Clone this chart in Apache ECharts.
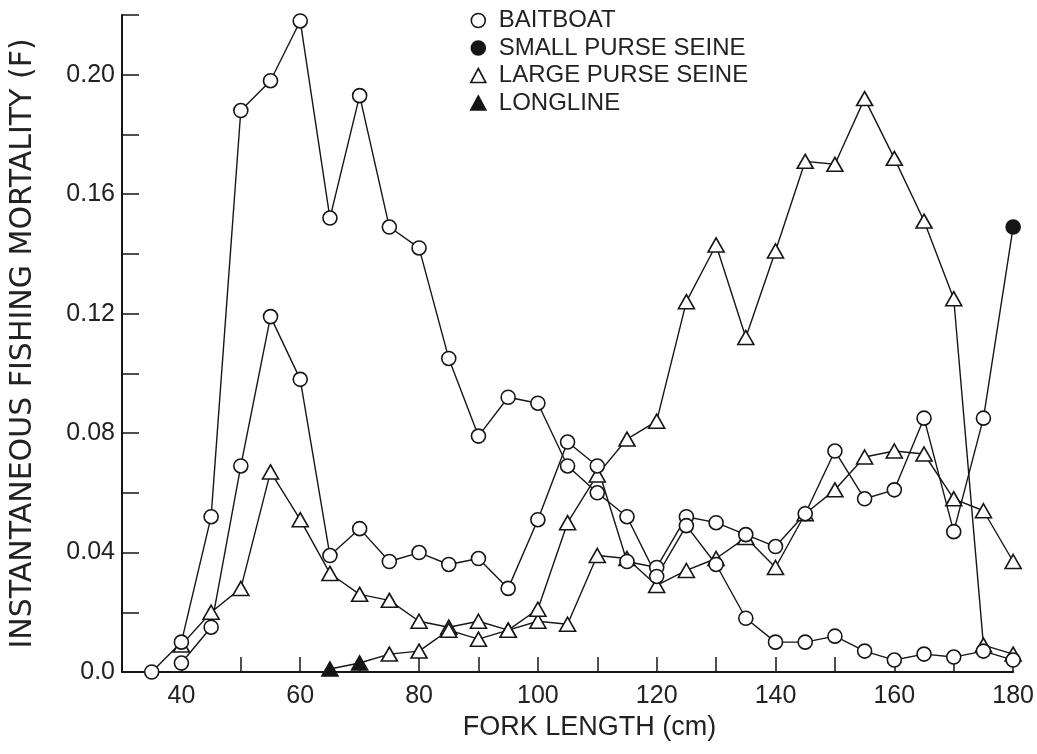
<!DOCTYPE html>
<html>
<head>
<meta charset="utf-8">
<script src="https://cdn.jsdelivr.net/npm/echarts@6/dist/echarts.min.js"></script>
<style>
  html, body { margin: 0; padding: 0; background: #ffffff; }
  #chart { width: 1037px; height: 754px; }
</style>
</head>
<body>
<div id="chart"></div>
<script>
// ---- data ----
const baitboatLength = [35, 40, 45, 50, 55, 60, 65, 70, 75, 80, 85, 90, 95, 100, 105, 110, 115, 120, 125, 130, 135, 140, 145, 150, 155, 160, 165, 170, 175, 180];
const baitboatF      = [0.000, 0.010, 0.052, 0.188, 0.198, 0.218, 0.152, 0.193, 0.149, 0.142, 0.105, 0.079, 0.092, 0.090, 0.069, 0.060, 0.052, 0.032, 0.049, 0.036, 0.018, 0.010, 0.010, 0.012, 0.007, 0.004, 0.006, 0.005, 0.007, 0.004];

const smallSeineLength = [40, 45, 50, 55, 60, 65, 70, 75, 80, 85, 90, 95, 100, 105, 110, 115, 120, 125, 130, 135, 140, 145, 150, 155, 160, 165, 170, 175, 180];
const smallSeineF      = [0.003, 0.015, 0.069, 0.119, 0.098, 0.039, 0.048, 0.037, 0.040, 0.036, 0.038, 0.028, 0.051, 0.077, 0.069, 0.037, 0.035, 0.052, 0.050, 0.046, 0.042, 0.053, 0.074, 0.058, 0.061, 0.085, 0.047, 0.085, 0.149];

const largeSeineLength = [40, 45, 50, 55, 60, 65, 70, 75, 80, 85, 90, 95, 100, 105, 110, 115, 120, 125, 130, 135, 140, 145, 150, 155, 160, 165, 170, 175, 180];
const largeSeineF      = [0.009, 0.020, 0.028, 0.067, 0.051, 0.033, 0.026, 0.024, 0.017, 0.015, 0.017, 0.014, 0.017, 0.016, 0.039, 0.038, 0.029, 0.034, 0.038, 0.045, 0.035, 0.053, 0.061, 0.072, 0.074, 0.073, 0.058, 0.054, 0.037];

const longlineLength = [65, 70, 75, 80, 85, 90, 95, 100, 105, 110, 115, 120, 125, 130, 135, 140, 145, 150, 155, 160, 165, 170, 175, 180];
const longlineF      = [0.001, 0.003, 0.006, 0.007, 0.014, 0.011, 0.014, 0.021, 0.050, 0.066, 0.078, 0.084, 0.124, 0.143, 0.112, 0.141, 0.171, 0.170, 0.192, 0.172, 0.151, 0.125, 0.009, 0.006];

const seriesNames = ['BAITBOAT', 'SMALL PURSE SEINE', 'LARGE PURSE SEINE', 'LONGLINE'];
const xTickLabels = [40, 60, 80, 100, 120, 140, 160, 180];
const yTickLabels = ['0.0', '0.04', '0.08', '0.12', '0.16', '0.20'];

// ---- styling ----
const INK = '#161616';
const FONT = '"Liberation Sans", Arial, sans-serif';
const smallSeineFilledAt = [180];   // points printed solid in the reference
const longlineFilledAt = [65, 70];

function build(xs, ys, filledAt) {
  return xs.map((x, i) => {
    const item = { value: [x, ys[i]] };
    if (filledAt && filledAt.indexOf(x) >= 0) item.itemStyle = { color: INK };
    return item;
  });
}

function lineSeries(name, data, symbol, size) {
  return {
    name: name,
    type: 'line',
    data: data,
    symbol: symbol,
    symbolSize: size,
    showAllSymbol: true,
    lineStyle: { color: INK, width: 1.4 },
    itemStyle: { color: '#ffffff', borderColor: INK, borderWidth: 1.6 },
    emphasis: { disabled: true },
    animation: false
  };
}

const chart = echarts.init(document.getElementById('chart'), null, { renderer: 'canvas' });

const option = {
  backgroundColor: '#ffffff',
  animation: false,
  grid: { left: 115, right: 21, top: 15, bottom: 82, containLabel: false },
  legend: {
    orient: 'vertical',
    left: 465,
    top: 3,
    itemGap: 2.5,
    itemWidth: 15,
    itemHeight: 14,
    selectedMode: false,
    textStyle: { fontFamily: FONT, fontSize: 24, color: '#222', lineHeight: 25, padding: [0, 0, 0, 8] },
    data: [
      { name: seriesNames[0], icon: 'circle', itemStyle: { color: '#fff', borderColor: INK, borderWidth: 1.6 } },
      { name: seriesNames[1], icon: 'circle', itemStyle: { color: INK, borderColor: INK, borderWidth: 1.6 } },
      { name: seriesNames[2], icon: 'triangle', itemStyle: { color: '#fff', borderColor: INK, borderWidth: 1.6 } },
      { name: seriesNames[3], icon: 'triangle', itemStyle: { color: INK, borderColor: INK, borderWidth: 1.6 } }
    ]
  },
  xAxis: {
    type: 'value',
    min: 30,
    max: 180,
    interval: 10,
    name: 'FORK LENGTH (cm)',
    nameLocation: 'middle',
    nameGap: 37,
    nameTextStyle: { fontFamily: FONT, fontSize: 27, color: '#222', padding: [0, 0, 0, 44] },
    axisLine: { show: true, onZero: false, lineStyle: { color: INK, width: 2 } },
    axisTick: { show: true, inside: true, length: 15, lineStyle: { color: INK, width: 1.5 } },
    splitLine: { show: false },
    axisLabel: {
      margin: 12,
      fontFamily: FONT,
      fontSize: 25,
      color: '#222',
      formatter: v => (xTickLabels.indexOf(Math.round(v)) >= 0 ? String(Math.round(v)) : '')
    }
  },
  yAxis: {
    type: 'value',
    min: 0,
    max: 0.22,
    interval: 0.02,
    name: 'INSTANTANEOUS FISHING MORTALITY (F)',
    nameLocation: 'middle',
    nameGap: 84,
    nameRotate: 90,
    nameTextStyle: { fontFamily: '"DejaVu Sans", sans-serif', fontSize: 30, color: '#222' },
    axisLine: { show: true, onZero: false, lineStyle: { color: INK, width: 2 } },
    axisTick: { show: true, inside: true, length: 17, lineStyle: { color: INK, width: 1.5 } },
    splitLine: { show: false },
    axisLabel: {
      margin: 7,
      fontFamily: FONT,
      fontSize: 25,
      color: '#222',
      formatter: v => {
        const k = Math.round(v * 100);
        if (k % 4 !== 0) return '';
        return yTickLabels[k / 4] || '';
      }
    }
  },
  series: [
    lineSeries(seriesNames[2], build(largeSeineLength, largeSeineF), 'triangle', [16, 14]),
    lineSeries(seriesNames[3], build(longlineLength, longlineF, longlineFilledAt), 'triangle', [16, 14]),
    lineSeries(seriesNames[1], build(smallSeineLength, smallSeineF, smallSeineFilledAt), 'circle', 14),
    lineSeries(seriesNames[0], build(baitboatLength, baitboatF), 'circle', 14)
  ]
};

chart.setOption(option);
</script>
</body>
</html>
